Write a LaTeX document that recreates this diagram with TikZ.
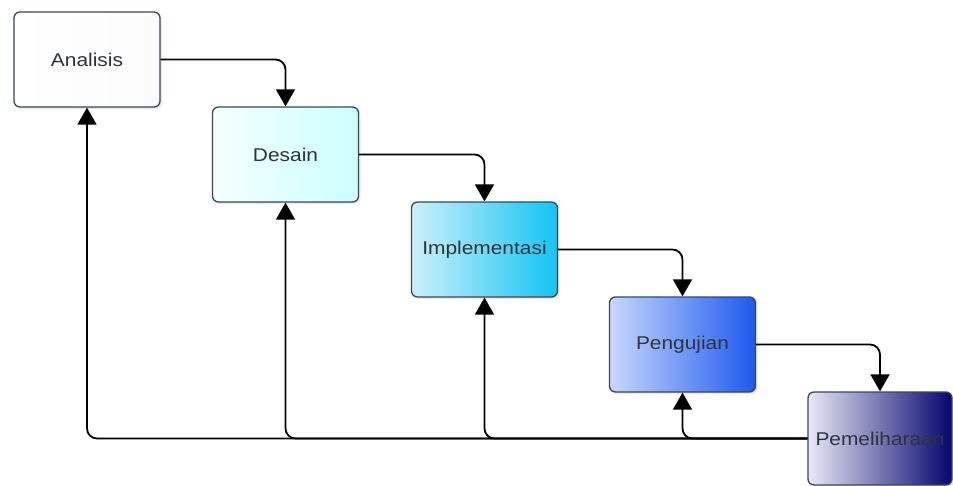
\documentclass[tikz,border=0pt]{standalone}
\usepackage{fontspec}
\setmainfont{Liberation Sans}
\usetikzlibrary{arrows.meta,shadows}
\definecolor{bordc}{HTML}{3A4756}
\definecolor{txtc}{HTML}{2E343A}
\tikzset{
  box/.style={draw=bordc, line width=1.3pt, rounded corners=6pt,
    minimum width=146pt, minimum height=95pt, inner sep=0pt,
    text=txtc, font=\fontsize{18.5}{20}\selectfont,
    drop shadow={opacity=0.18, shadow xshift=2pt, shadow yshift=-2pt}},
  conn/.style={draw=black, line width=1.8pt, rounded corners=10pt,
    -{Triangle[width=19pt,length=17pt]}},
}
\newcommand{\wtxt}[1]{\scalebox{1.13}[1]{#1}}
\begin{document}
\begin{tikzpicture}[x=1pt,y=-1pt]
\useasboundingbox (0,0) rectangle (953,485);
\node[box, left color=white, right color=gray!3] (a) at (87,59.5) {\wtxt{Analisis}};
\node[box, left color=cyan!4, right color=cyan!20] (d) at (285.5,154.5) {\wtxt{Desain}};
\node[box, left color={rgb,255:red,205;green,240;blue,250}, right color={rgb,255:red,20;green,196;blue,244}] (i) at (484.5,249.5) {\wtxt{Implementasi}};
\node[box, left color={rgb,255:red,200;green,215;blue,252}, right color={rgb,255:red,30;green,90;blue,240}] (p) at (682.5,344.5) {\wtxt{Pengujian}};
\node[box, minimum width=144pt, minimum height=93pt, left color={rgb,255:red,232;green,232;blue,246}, right color={rgb,255:red,5;green,5;blue,110}] (m) at (880,438.5) {\wtxt{Pemeliharaan}};
% forward connectors
\draw[conn] (a.east) -| (d.north);
\draw[conn] (d.east) -| (i.north);
\draw[conn] (i.east) -| (p.north);
\draw[conn] (p.east) -| (m.north);
% feedback connectors
\draw[conn] (m.west) -| (p.south);
\draw[conn] (m.west) -| (i.south);
\draw[conn] (m.west) -| (d.south);
\draw[conn] (m.west) -| (a.south);
\end{tikzpicture}
\end{document}
